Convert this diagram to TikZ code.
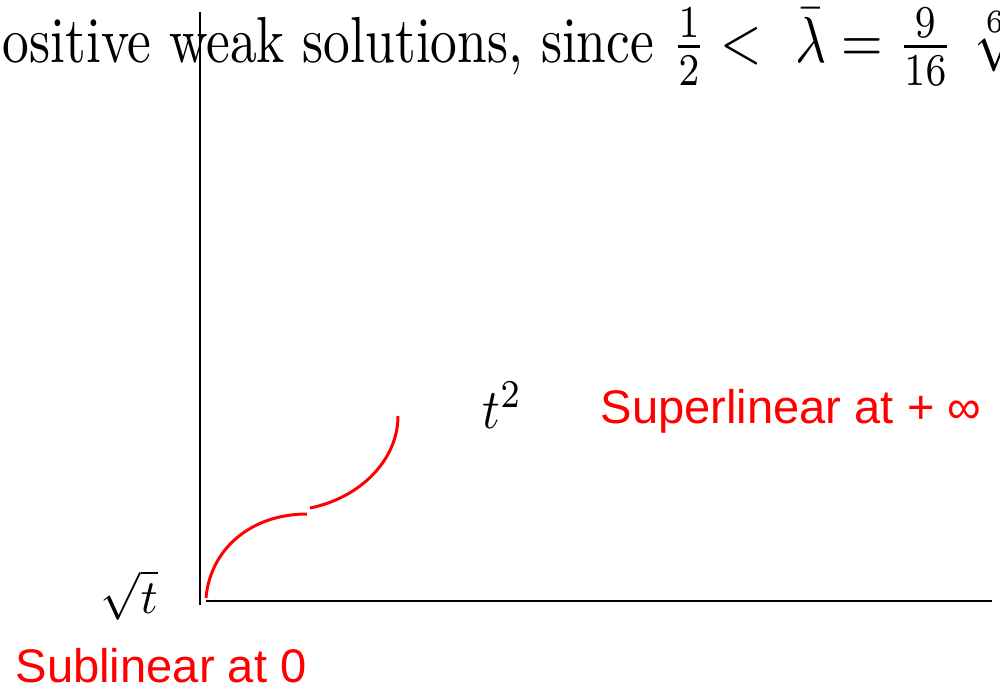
\documentclass[tikz,border=0pt]{standalone}
\usepackage{amsmath,amssymb}
\usepackage{graphicx}
\usepackage{fontspec}
\newfontfamily\labelfont{Liberation Sans}
\usepackage{xcolor}
\definecolor{notered}{RGB}{255,0,0}

\begin{document}
\begin{tikzpicture}[x=0.01cm, y=-0.01cm,
  axis/.style={line width=0.8pt, black},
  curve/.style={line width=0.85pt, notered},
  note/.style={inner sep=0pt, text=notered, font=\labelfont\fontsize{13.4}{16}\selectfont},
  mathlabel/.style={inner sep=0pt}]
  \useasboundingbox (0,0) rectangle (1000,688);
  \clip (0,0) rectangle (1000,688);

  % clipped line of text at the top
  \node[inner sep=0pt, anchor=base west] (header) at (2,63)
    {\scalebox{1.52}[1.85]{ositive weak solutions, since $\frac12<\ \bar\lambda=\frac{9}{16}\ \sqrt[6]{2}$}};

  % axes
  \coordinate (origin) at (200,601);
  \draw[axis] (200,12) -- (200,605);
  \draw[axis] (206,601) -- (992,601);

  % the two pieces of the curve
  \draw[curve] (206,598) .. controls (210,550) and (250,514) .. (307,514);
  \draw[curve] (310,508) .. controls (360,498) and (398,460) .. (398,416);

  % labels
  \node[mathlabel, anchor=base west] (square) at (482,428) {\scalebox{1.4}[1.6]{$t^2$}};
  \node[mathlabel, anchor=base west] (root) at (100,613) {\scalebox{1.36}{$\sqrt{t}$}};
  \node[note, anchor=base west] (superlin) at (600,423) {Superlinear at + ∞};
  \node[note, anchor=base west] (sublin) at (15,682) {Sublinear at 0};
\end{tikzpicture}
\end{document}
